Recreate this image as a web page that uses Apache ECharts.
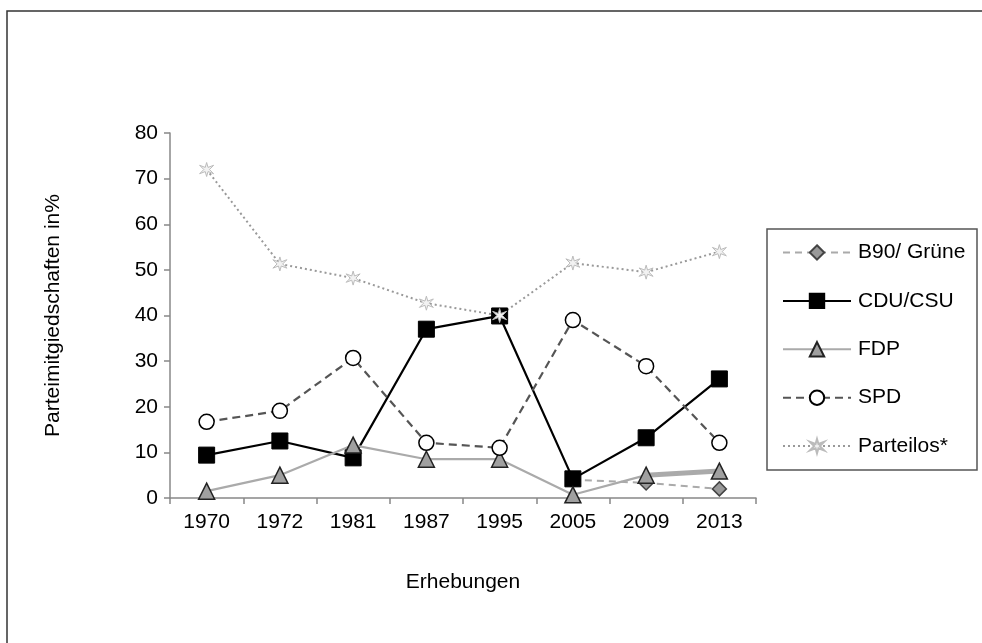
<!DOCTYPE html>
<html><head><meta charset="utf-8">
<script src="https://cdn.jsdelivr.net/npm/echarts@6/dist/echarts.min.js"></script>
<style>html,body{margin:0;padding:0;background:#fff}#c{width:982px;height:643px}</style>
</head><body><div id="c"></div>
<script>
const categories = ['1970','1972','1981','1987','1995','2005','2009','2013'];
const b90 = [null,null,null,null,null,4,3.3,2];
const cdu = [9.4,12.5,8.8,37,39.9,4.2,13.2,26.1];
const fdp = [1.5,5,11.6,8.5,8.5,0.7,5,5.9];
const spd = [16.7,19.1,30.7,12.1,11,39,28.9,12.1];
const parteilos = [72,51.3,48.2,42.7,40,51.5,49.5,54];
const yTicks = [0,10,20,30,40,50,60,70,80];

const FONT = '"Liberation Sans", Arial, sans-serif';
const FS = 21;
const starPath = 'path://M10,0 L12,7 L20,4 L14,10 L20,16 L12,13 L10,20 L8,13 L0,16 L6,10 L0,4 L8,7 Z';
const fdpThick = fdp.map((v,i)=> i>=6 ? v : null);

const chart = echarts.init(document.getElementById('c'), null, {renderer:'canvas'});
chart.setOption({
  animation:false,
  backgroundColor:'#fff',
  textStyle:{fontFamily:FONT},
  graphic:[
    {type:'rect', shape:{x:7,y:11,width:1000,height:700}, style:{fill:'none',stroke:'#333',lineWidth:1.5}, z:-1},
    {type:'rect', shape:{x:767,y:229,width:210,height:241}, style:{fill:'#fff',stroke:'#555',lineWidth:1.5}, z:0}
  ],
  grid:{left:170,right:226,top:133,bottom:145},
  legend:{
    data:['B90/ Grüne','CDU/CSU','FDP','SPD','Parteilos*'],
    orient:'vertical', left:777, top:237,
    itemWidth:68, itemHeight:18, itemGap:27.4,
    textStyle:{fontFamily:FONT,fontSize:FS,color:'#000',padding:[0,0,0,2]},
    z:5
  },
  xAxis:{
    type:'category', data:categories, boundaryGap:true,
    name:'Erhebungen', nameLocation:'middle', nameGap:74,
    nameTextStyle:{fontFamily:FONT,fontSize:FS,color:'#000'},
    axisLine:{lineStyle:{color:'#888',width:1.5}},
    axisTick:{show:true,length:6,lineStyle:{color:'#888',width:1.5},alignWithLabel:false},
    axisLabel:{fontFamily:FONT,fontSize:FS,color:'#000',margin:14}
  },
  yAxis:{
    type:'value', min:yTicks[0], max:yTicks[yTicks.length-1], interval:10,
    name:'Parteimitgiedschaften in%', nameLocation:'middle', nameGap:106,
    nameTextStyle:{fontFamily:FONT,fontSize:FS,color:'#000'},
    splitLine:{show:false},
    axisLine:{show:true,lineStyle:{color:'#888',width:1.5}},
    axisTick:{show:true,length:6,lineStyle:{color:'#888',width:1.5}},
    axisLabel:{fontFamily:FONT,fontSize:FS,color:'#000',margin:12}
  },
  series:[
    {name:'B90/ Grüne',type:'line',data:b90,symbol:'diamond',symbolSize:14,
     lineStyle:{color:'#aaa',width:2,type:[7,5]},
     itemStyle:{color:'#999',borderColor:'#444',borderWidth:1.5}},
    {name:'CDU/CSU',type:'line',data:cdu,symbol:'rect',symbolSize:16,
     lineStyle:{color:'#000',width:2.2},
     itemStyle:{color:'#000',borderColor:'#000',borderWidth:1}},
    {name:'FDP',type:'line',data:fdp,symbol:'triangle',symbolSize:16,
     lineStyle:{color:'#aaa',width:2.2},
     itemStyle:{color:'#a0a0a0',borderColor:'#222',borderWidth:1.5}},
    {name:'FDP-thick',type:'line',data:fdpThick,symbol:'none',z:1,
     lineStyle:{color:'#aaa',width:5}},
    {name:'SPD',type:'line',data:spd,symbol:'circle',symbolSize:15,
     lineStyle:{color:'#555',width:2.2,type:[8,5]},
     itemStyle:{color:'#fff',borderColor:'#000',borderWidth:1.5}},
    {name:'Parteilos*',type:'line',data:parteilos,symbol:starPath,symbolSize:14,
     lineStyle:{color:'#999',width:2,type:[2,3]},
     itemStyle:{color:'#f2f2f2',borderColor:'#bbb',borderWidth:1}}
  ]
});
</script></body></html>
